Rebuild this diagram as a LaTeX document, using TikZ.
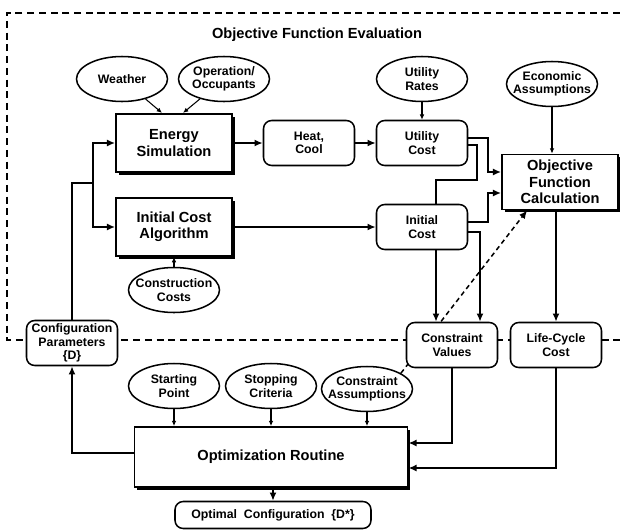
\documentclass[tikz,border=0pt]{standalone}
\usepackage{fontspec}
\setmainfont{Liberation Sans}
\usetikzlibrary{shapes.geometric, arrows.meta, shadows, calc, backgrounds}

\newcommand{\boxfont}{\fontsize{12.5}{14}\selectfont\bfseries}
\newcommand{\tagfont}{\fontsize{10.5}{11.5}\selectfont\bfseries}

\begin{document}
\begin{tikzpicture}[x=0.03cm, y=-0.03cm,
  process/.style={draw, line width=1.5pt, fill=white, align=center, font=\boxfont, inner sep=0pt,
    minimum width=3.48cm, minimum height=1.75cm,
    drop shadow={shadow xshift=2.5pt, shadow yshift=-2.5pt, opacity=1, fill=black}},
  result/.style={draw, line width=1.3pt, fill=white, rounded corners=7pt, align=center, font=\tagfont,
    inner sep=0pt, minimum width=2.73cm, minimum height=1.35cm},
  input/.style={draw, ellipse, line width=1.3pt, fill=white, align=center, font=\tagfont,
    inner xsep=-8pt, inner ysep=0pt, minimum width=2.73cm, minimum height=1.35cm},
  flow/.style={line width=2pt, -{Latex[length=7pt, width=6pt]}},
  feed/.style={line width=0.9pt, -{Latex[length=4.5pt, width=4pt]}}
]

\useasboundingbox (0,0) rectangle (620,529);

% Evaluation region
\draw[line width=1pt, dash pattern=on 6pt off 4pt] (620,13) -- (7,13) -- (7,340) -- (620,340);
\node[font=\boxfont] (title) at (317,35) {Objective Function Evaluation};

% Inputs
\node[input] (weather) at (122,79) {Weather};
\node[input] (occupants) at (224,79) {Operation/\\Occupants};
\node[input] (rates) at (422,79) {Utility\\Rates};
\node[input] (econ) at (552,84) {Economic\\Assumptions};
\node[input] (constr) at (174,290) {Construction\\Costs};

% Simulation and cost blocks
\node[process] (energy) at (174,143) {Energy\\Simulation};
\node[process] (initalg) at (174,227) {Initial Cost\\Algorithm};
\node[process, minimum height=1.65cm] (objfun) at (560,182) {Objective\\Function\\Calculation};

% Intermediate results
\node[result] (heatcool) at (309,143) {Heat,\\Cool};
\node[result] (utilcost) at (422,143) {Utility\\Cost};
\node[result] (initcost) at (422,227) {Initial\\Cost};
\node[result] (config) at (72,343) {Configuration\\Parameters\\\{D\}};
\node[result] (convals) at (452,345) {Constraint\\Values};
\node[result] (lcc) at (556,345) {Life-Cycle\\Cost};

% Optimization inputs
\node[input] (start) at (174,386) {Starting\\Point};
\node[input] (stop) at (271,386) {Stopping\\Criteria};
\node[input] (conassump) at (367,389) {Constraint\\Assumptions};

% Optimization routine
\node[process, minimum width=8.19cm, minimum height=1.8cm] (optim) at (271,457) {Optimization Routine};
\node[result, minimum width=5.88cm, minimum height=0.81cm] (optimal) at (273,515) {Optimal~~Configuration~~\{D*\}};

% Connectors behind the nodes
\begin{pgfonlayer}{background}
\draw[flow] ($(utilcost.east)+(0,2)$) -- ++(9,0) -- ++(0,35) -| ($(convals.north)+(-16,0)$);
\draw[line width=1.3pt, dash pattern=on 4pt off 3pt, -{Latex[length=7pt, width=6pt]}]
    (conassump.25) -- ($(objfun.south west)+(26,0)$);
\end{pgfonlayer}

% Energy simulation
\draw[feed] (weather) -- ([xshift=-0.36cm]energy.north);
\draw[feed] (occupants) -- ([xshift=0.27cm]energy.north);
\draw[flow] (energy) -- (heatcool);
\draw[flow] (heatcool) -- (utilcost);
\draw[feed] (rates) -- (utilcost);
\draw[feed] (econ) -- (econ |- objfun.north);

% Initial cost
\draw[feed] (constr) -- (initalg);
\draw[flow] (initalg) -- (initcost);

% Costs to objective function and constraints
\draw[flow] ($(utilcost.east)+(0,-5)$) -| ($(objfun.west)+(-13,-10)$) -- ($(objfun.west)+(0,-10)$);
\draw[flow] ($(initcost.east)+(0,-5)$) -| ($(objfun.west)+(-13,11)$) -- ($(objfun.west)+(0,11)$);
\draw[flow] ($(initcost.east)+(0,5)$) -| ($(convals.north)+(28,0)$);
\draw[flow] (lcc |- objfun.south) -- (lcc);

% Optimization loop
\draw[feed] (start) -- (start |- optim.north);
\draw[feed] (stop) -- (stop |- optim.north);
\draw[feed] (conassump) -- (conassump |- optim.north);
\draw[flow] (convals.south) |- ($(optim.east)+(0,-14)$);
\draw[flow] (lcc.south) |- ($(optim.east)+(0,11)$);
\draw[flow] ($(optim.west)+(0,-4)$) -| (config.south);
\coordinate (split) at (93,183);
\draw[line width=2pt] (config.north) |- (split);
\draw[flow] (split) |- (energy.west);
\draw[flow] (split) |- (initalg.west);
\draw[flow] (optim.south -| optimal) -- (optimal);

\end{tikzpicture}
\end{document}
